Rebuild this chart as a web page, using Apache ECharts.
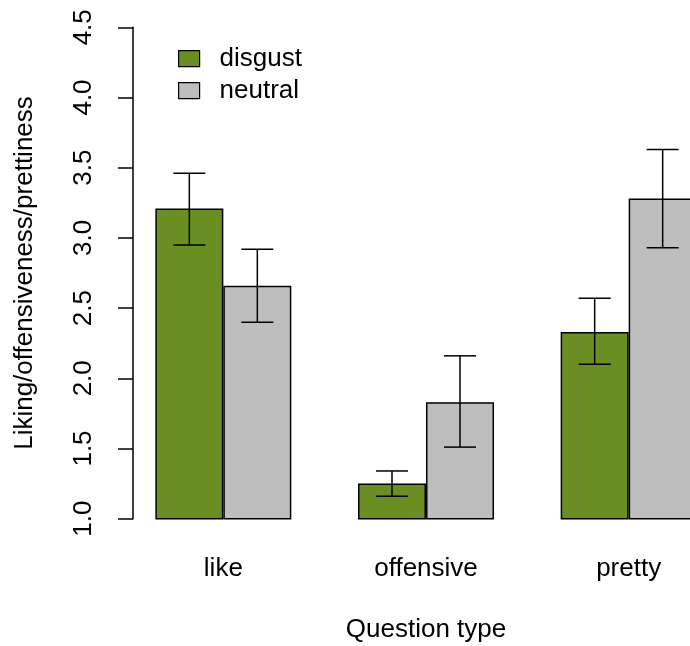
<!DOCTYPE html>
<html>
<head>
<meta charset="utf-8">
<script src="https://cdn.jsdelivr.net/npm/echarts@6/dist/echarts.min.js"></script>
<style>html,body{margin:0;padding:0;background:#fff}#c{width:690px;height:646px}</style>
</head>
<body>
<div id="c"></div>
<script>
var categories = ['like', 'offensive', 'pretty'];
var seriesNames = ['disgust', 'neutral'];
var disgustMean = [3.21, 1.25, 2.33];
var disgustLow  = [2.95, 1.16, 2.10];
var disgustHigh = [3.46, 1.34, 2.57];
var neutralMean = [2.66, 1.83, 3.28];
var neutralLow  = [2.40, 1.51, 2.93];
var neutralHigh = [2.92, 2.16, 3.63];
var yTicks = [1.0, 1.5, 2.0, 2.5, 3.0, 3.5, 4.0, 4.5];

var FONT = 'Liberation Sans, Arial, Helvetica, sans-serif';
var FS = 26;
var BAR_W = 68;
var CAP = 16;

function errData(low, high) {
  return categories.map(function (c, i) { return [i, low[i], high[i]]; });
}
function errSeries(low, high, side) {
  return {
    type: 'custom',
    silent: true,
    z: 10,
    data: errData(low, high),
    renderItem: function (params, api) {
      var lo = api.coord([api.value(0), api.value(1)]);
      var hi = api.coord([api.value(0), api.value(2)]);
      var x = lo[0] + side * BAR_W / 2;
      var st = { stroke: '#000', lineWidth: 1.5 };
      return {
        type: 'group',
        children: [
          { type: 'line', shape: { x1: x, y1: lo[1], x2: x, y2: hi[1] }, style: st },
          { type: 'line', shape: { x1: x - CAP, y1: lo[1], x2: x + CAP, y2: lo[1] }, style: st },
          { type: 'line', shape: { x1: x - CAP, y1: hi[1], x2: x + CAP, y2: hi[1] }, style: st }
        ]
      };
    }
  };
}

var chart = echarts.init(document.getElementById('c'), null, { renderer: 'canvas' });
chart.setOption({
  animation: false,
  backgroundColor: '#fff',
  textStyle: { fontFamily: FONT },
  grid: { left: 122, top: 27.3, width: 608, height: 491.4, containLabel: false, outerBoundsMode: 'none' },
  legend: {
    orient: 'vertical',
    left: 178, top: 45.7, padding: 0,
    itemWidth: 21, itemHeight: 16, itemGap: 6,
    icon: 'rect',
    data: seriesNames,
    itemStyle: { borderColor: '#000', borderWidth: 1.2 },
    textStyle: { fontFamily: FONT, fontSize: FS, color: '#000', padding: [0, 0, 0, 15] }
  },
  xAxis: {
    type: 'category',
    data: categories,
    axisLine: { show: false },
    axisTick: { show: false },
    axisLabel: { color: '#000', fontSize: FS, fontFamily: FONT, margin: 37 },
    name: 'Question type',
    nameLocation: 'middle',
    nameGap: 98,
    nameTextStyle: { color: '#000', fontSize: FS, fontFamily: FONT }
  },
  yAxis: {
    type: 'value',
    min: 1, max: 4.5, interval: 0.5,
    offset: -11,
    splitLine: { show: false },
    axisLine: { show: true, lineStyle: { color: '#000', width: 1.5 } },
    axisTick: { show: true, length: 15, lineStyle: { color: '#000', width: 1.5 } },
    axisLabel: {
      color: '#000', fontSize: FS, fontFamily: FONT, rotate: 90, margin: 36,
      formatter: function (v) { return v.toFixed(1); }
    },
    name: 'Liking/offensiveness/prettiness',
    nameLocation: 'middle',
    nameGap: 95,
    nameTextStyle: { color: '#000', fontSize: FS, fontFamily: FONT }
  },
  series: [
    {
      name: seriesNames[0], type: 'bar', data: disgustMean, barWidth: BAR_W, barGap: '0%',
      itemStyle: { color: '#6B8E23', borderColor: '#000', borderWidth: 1.5 }
    },
    {
      name: seriesNames[1], type: 'bar', data: neutralMean, barWidth: BAR_W, barGap: '0%',
      itemStyle: { color: '#BEBEBE', borderColor: '#000', borderWidth: 1.5 }
    },
    errSeries(disgustLow, disgustHigh, -1),
    errSeries(neutralLow, neutralHigh, 1)
  ]
});
</script>
</body>
</html>
